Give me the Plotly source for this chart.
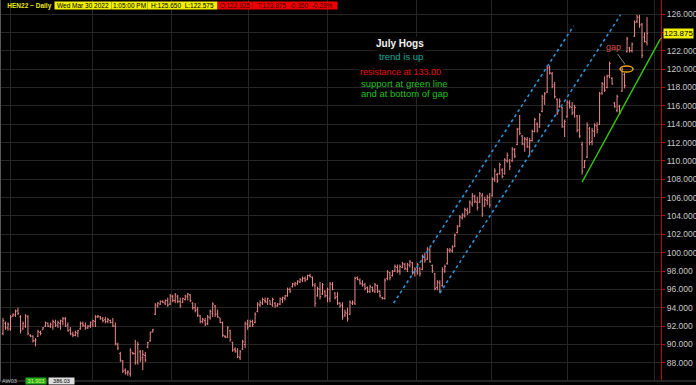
import plotly.graph_objects as go

W, H = 696, 385

# ---------------- data ----------------
high = [92.9, 92.5, 92.4, 93.2, 93.4, 93.8, 94.0, 93.2, 92.5, 93.3,
        93.2, 91.1, 91.0, 90.7, 91.6, 91.5, 91.9, 92.5, 92.4, 92.4,
        92.7, 92.7, 92.6, 92.7, 93.0, 93.0, 92.4, 91.9, 91.4, 91.5,
        91.6, 92.5, 92.5, 92.4, 92.1, 92.5, 92.7, 93.2, 93.2, 93.1,
        93.0, 93.0, 92.9, 92.7, 92.9, 92.4, 90.2, 89.2, 88.3, 87.4,
        87.2, 89.6, 89.2, 90.5, 90.3, 89.4, 89.4, 89.2, 90.3, 91.4,
        91.7, 94.5, 94.6, 94.8, 94.8, 94.9, 95.1, 95.5, 95.4, 95.6,
        95.4, 95.1, 95.1, 95.4, 95.6, 95.5, 94.6, 94.5, 94.1, 93.2,
        92.9, 92.9, 93.2, 93.8, 94.6, 94.3, 93.8, 92.9, 92.5, 91.0,
        92.0, 91.6, 90.3, 89.7, 89.6, 89.4, 90.5, 92.5, 92.7, 92.7,
        92.7, 93.5, 94.6, 94.8, 95.1, 95.1, 95.1, 94.8, 95.1, 94.6,
        94.5, 95.1, 95.2, 95.4, 96.2, 96.2, 96.7, 96.8, 97.0, 97.2,
        97.4, 97.4, 97.6, 97.7, 97.4, 96.7, 96.3, 96.8, 96.7, 95.9,
        96.2, 96.8, 96.8, 95.7, 95.7, 94.6, 94.6, 93.8, 94.0, 94.8,
        94.8, 97.4, 97.4, 97.2, 97.0, 96.7, 96.3, 96.5, 96.3, 96.7,
        96.5, 95.9, 95.2, 97.2, 98.1, 97.9, 98.1, 98.7, 98.7, 98.7,
        99.0, 98.9, 98.9, 99.2, 99.0, 98.4, 98.9, 98.4, 99.8, 100.0,
        100.6, 100.5, 98.7, 97.8, 97.0, 97.0, 98.4, 98.7, 100.5, 100.5,
        100.8, 102.1, 103.0, 104.1, 104.3, 104.9, 104.9, 105.7, 106.5, 106.3,
        106.1, 106.6, 106.5, 106.1, 106.3, 106.5, 108.2, 109.2, 108.7, 109.8,
        109.2, 110.3, 110.9, 110.2, 111.5, 111.4, 113.6, 115.0, 112.8, 112.6,
        112.6, 112.5, 113.4, 114.7, 114.2, 115.2, 117.2, 117.5, 120.4, 120.4,
        119.7, 118.6, 116.8, 116.8, 115.9, 114.5, 116.6, 116.6, 116.4, 116.1,
        115.0, 115.0, 112.1, 110.1, 114.2, 113.7, 113.6, 114.1, 114.2, 117.5,
        118.6, 119.2, 119.4, 120.8, 119.1, 116.4, 117.2, 116.1, 120.2, 119.6,
        123.5, 122.4, 122.9, 125.3, 125.9, 125.9, 125.0, 124.0, 125.65]

low = [91.0, 91.6, 91.5, 91.5, 93.0, 93.0, 93.2, 91.2, 91.6, 91.8,
       91.0, 90.8, 90.2, 89.8, 90.8, 91.0, 91.6, 91.9, 91.9, 91.8,
       91.6, 91.9, 91.8, 91.6, 92.1, 91.9, 91.4, 91.0, 90.8, 90.9,
       90.8, 91.6, 91.9, 91.6, 91.7, 91.8, 91.9, 91.9, 92.9, 92.7,
       92.4, 92.3, 92.3, 92.3, 91.9, 89.9, 89.4, 88.1, 86.9, 86.7,
       86.6, 86.5, 88.9, 87.8, 87.8, 88.1, 87.2, 88.1, 89.6, 90.3,
       91.3, 93.2, 94.0, 94.3, 94.5, 94.3, 94.1, 94.3, 94.6, 94.5,
       94.5, 94.0, 94.5, 94.8, 94.8, 94.6, 93.8, 93.5, 93.0, 92.3,
       92.3, 92.0, 92.1, 92.7, 93.0, 93.0, 92.9, 92.3, 90.8, 90.7,
       90.7, 90.3, 89.2, 89.1, 88.5, 88.3, 89.4, 89.6, 91.6, 91.9,
       91.9, 92.3, 93.5, 94.1, 94.3, 94.5, 94.3, 94.3, 94.1, 94.0,
       94.1, 94.3, 94.5, 94.8, 95.2, 95.6, 96.2, 96.3, 96.5, 96.7,
       96.8, 96.8, 97.0, 97.3, 96.3, 94.1, 95.2, 94.9, 95.4, 95.1,
       94.6, 94.6, 95.9, 94.9, 94.3, 94.0, 92.7, 93.0, 92.5, 93.2,
       94.3, 94.3, 97.0, 96.5, 96.3, 95.9, 95.6, 95.6, 95.7, 95.6,
       95.6, 95.1, 94.9, 94.9, 97.0, 97.0, 97.4, 97.9, 97.8, 97.6,
       98.3, 98.1, 97.9, 98.4, 97.6, 97.4, 97.6, 97.4, 98.1, 98.9,
       99.2, 98.9, 97.8, 95.9, 95.9, 95.6, 96.3, 97.8, 98.7, 100.0,
       100.0, 100.6, 102.1, 102.8, 103.6, 103.8, 104.1, 104.3, 105.0, 105.4,
       104.6, 105.4, 103.9, 105.0, 105.2, 104.9, 106.1, 107.7, 107.6, 108.5,
       108.1, 108.5, 109.8, 109.0, 109.9, 110.3, 111.7, 112.8, 111.7, 111.0,
       111.4, 110.6, 112.1, 113.1, 113.1, 113.6, 115.3, 116.1, 117.4, 119.4,
       117.9, 116.8, 115.0, 115.8, 113.6, 112.6, 114.7, 115.7, 115.0, 114.7,
       113.1, 112.5, 108.5, 109.2, 110.3, 111.7, 111.7, 112.6, 113.0, 113.9,
       117.2, 117.5, 117.9, 119.0, 118.3, 115.8, 115.3, 115.0, 117.5, 117.9,
       121.8, 121.8, 121.8, 123.5, 125.0, 124.5, 121.2, 122.9, 122.575]

open_ = [91.2, 92.3, 91.8, 91.7, 93.1, 93.2, 93.7, 93.0, 91.7, 92.0,
         93.0, 91.0, 90.9, 90.4, 90.9, 91.3, 91.6, 92.0, 92.3, 92.0,
         91.9, 92.4, 92.1, 92.3, 92.5, 92.8, 92.1, 91.6, 91.1, 91.0,
         91.2, 91.7, 92.3, 92.0, 91.8, 92.0, 92.2, 92.5, 93.0, 93.0,
         92.8, 92.7, 92.5, 92.6, 92.4, 92.0, 90.0, 89.0, 88.2, 87.2,
         86.9, 86.8, 89.1, 89.0, 88.2, 89.2, 88.6, 88.8, 89.7, 90.4,
         91.4, 93.3, 94.2, 94.4, 94.7, 94.5, 94.8, 94.4, 95.2, 94.8,
         95.2, 94.7, 94.6, 94.9, 95.2, 95.4, 94.5, 94.0, 93.8, 93.1,
         92.5, 92.6, 92.3, 92.9, 93.4, 94.2, 93.3, 92.9, 92.4, 90.9,
         90.8, 91.5, 90.2, 89.5, 89.2, 88.6, 89.5, 90.0, 92.2, 92.0,
         92.5, 92.4, 93.6, 94.3, 94.5, 94.8, 94.6, 94.8, 94.3, 94.5,
         94.2, 94.4, 94.9, 95.0, 95.3, 96.0, 96.3, 96.5, 96.6, 96.8,
         97.0, 97.2, 97.1, 97.5, 97.3, 96.4, 95.3, 96.0, 95.5, 95.8,
         95.3, 95.0, 96.5, 95.6, 95.2, 94.5, 94.3, 93.2, 93.4, 93.3,
         94.5, 94.5, 97.3, 97.0, 96.6, 96.5, 96.2, 95.8, 96.2, 95.8,
         96.4, 95.8, 95.1, 95.0, 97.2, 97.8, 97.5, 98.0, 98.4, 98.0,
         98.4, 98.7, 98.2, 98.6, 98.9, 97.8, 98.0, 98.3, 98.2, 99.5,
         99.3, 100.3, 98.6, 97.7, 96.2, 96.7, 96.4, 98.0, 98.8, 100.2,
         100.2, 100.7, 102.2, 102.9, 103.8, 104.0, 104.6, 104.4, 105.3, 106.1,
         105.5, 105.5, 106.2, 105.1, 105.7, 106.0, 106.2, 108.0, 108.5, 108.6,
         109.0, 108.6, 110.0, 110.0, 110.0, 111.2, 111.8, 113.5, 112.7, 111.8,
         112.3, 111.5, 112.2, 113.2, 114.0, 113.7, 115.4, 116.8, 117.5, 120.2,
         119.5, 118.3, 116.7, 115.9, 115.8, 113.7, 114.8, 116.3, 115.8, 115.3,
         114.9, 113.4, 111.8, 109.3, 110.4, 113.5, 112.1, 113.2, 113.8, 114.0,
         117.4, 118.3, 118.0, 119.3, 119.0, 116.3, 115.5, 115.9, 117.6, 119.4,
         121.9, 122.3, 122.0, 123.6, 125.2, 125.6, 124.9, 123.5, 122.925]

close = [92.6, 91.8, 92.2, 93.0, 93.3, 93.6, 93.4, 91.5, 92.3, 93.1,
         91.2, 90.9, 90.4, 90.5, 91.4, 91.2, 91.8, 92.4, 92.0, 92.2,
         92.5, 92.1, 92.4, 92.6, 92.8, 92.0, 91.5, 91.2, 91.0, 91.3,
         91.5, 92.3, 92.1, 91.8, 92.0, 92.4, 92.6, 93.0, 93.1, 92.8,
         92.6, 92.5, 92.7, 92.4, 92.0, 90.1, 89.6, 88.3, 87.1, 86.9,
         87.0, 89.3, 89.0, 88.0, 90.0, 88.4, 88.9, 88.3, 90.2, 91.3,
         91.6, 94.3, 94.5, 94.7, 94.6, 94.8, 94.3, 95.3, 94.8, 95.4,
         94.7, 94.2, 95.0, 95.3, 95.5, 94.8, 94.0, 93.7, 93.2, 92.5,
         92.7, 92.2, 93.0, 93.6, 94.4, 93.3, 93.0, 92.4, 91.0, 90.8,
         91.8, 90.5, 89.4, 89.3, 88.7, 89.2, 90.3, 92.3, 91.9, 92.5,
         92.2, 93.3, 94.4, 94.6, 94.9, 94.7, 95.0, 94.4, 94.9, 94.2,
         94.4, 95.0, 95.1, 95.3, 96.0, 95.8, 96.6, 96.7, 96.9, 97.1,
         97.2, 97.0, 97.5, 97.4, 96.5, 94.5, 96.1, 95.2, 96.5, 95.3,
         96.0, 96.6, 96.0, 95.1, 94.5, 94.2, 93.0, 93.5, 92.8, 94.6,
         94.6, 97.2, 97.1, 96.7, 96.5, 96.1, 95.8, 96.3, 95.9, 96.5,
         95.8, 95.3, 95.0, 97.0, 97.9, 97.3, 98.0, 98.5, 98.0, 98.5,
         98.8, 98.3, 98.7, 99.0, 97.8, 98.2, 98.7, 97.7, 99.6, 99.2,
         100.4, 99.0, 98.0, 96.1, 96.8, 95.8, 98.2, 98.5, 100.3, 100.3,
         100.6, 101.9, 102.8, 103.9, 104.1, 104.7, 104.3, 105.5, 106.2, 105.6,
         104.9, 106.4, 104.2, 105.8, 106.0, 105.2, 108.0, 108.9, 107.8, 109.6,
         108.3, 110.1, 110.6, 109.4, 111.3, 110.5, 113.4, 113.0, 111.9, 112.4,
         111.6, 112.2, 113.2, 114.5, 113.3, 115.0, 117.0, 117.3, 120.1, 119.6,
         118.1, 117.0, 115.2, 116.5, 113.8, 114.3, 116.4, 115.9, 115.2, 115.8,
         113.3, 112.7, 108.9, 110.0, 113.9, 112.0, 113.3, 113.9, 113.4, 117.3,
         118.4, 117.7, 119.2, 120.6, 118.4, 115.9, 117.0, 115.2, 120.0, 118.2,
         123.3, 122.0, 122.7, 125.1, 125.7, 124.8, 121.5, 123.0, 123.875]

bar_index = list(range(len(close)))

price_ticks = list(range(88, 127, 2))
# 124.000 sits under the last-price box, so it is not printed
price_labels = ["" if v == 124 else f"{v:.3f}" for v in price_ticks]
period_marks = [3, 36, 67.5, 98.5, 130, 165.5, 195.5, 226, 261]

upper_channel_x = [156.5, 228.6]
upper_channel_y = [94.5, 124.7]
lower_channel_x = [175.0, 247.4]
lower_channel_y = [95.6, 125.9]
support_x = [232.0, 263.2]
support_y = [107.7, 123.2]
gap_x = [247.2, 252.4]
gap_y = [119.68, 120.34]
last_price = 123.875

header_items = [
    # text, left px, width px, background, font colour, bold
    ("HEN22 ~ Daily", 4, 49, "rgba(0,0,0,0)", "#e8e800", True),
    ("Wed Mar 30 2022", 54, 56, "#f0f000", "#000000", False),
    ("1:05:00 PM", 111, 35, "#f0f000", "#000000", False),
    ("H:125.650  L:122.575", 147, 69, "#f0f000", "#000000", False),
    ("O:122.925", 217, 34, "#ee0000", "#3a0000", False),
    ("T:123.875  -0.350  -0.28%", 252, 84, "#ee0000", "#3a0000", False),
]

# ---------------- figure ----------------
BAR = "#ee8a8a"
FONT = "Liberation Sans"
PX_R = 661
PX_B = 380


def px(x):
    return x / W


def py(y):
    return 1 - y / H


fig = go.Figure()
fig.add_trace(go.Ohlc(
    x=bar_index, open=open_, high=high, low=low, close=close,
    increasing=dict(line=dict(color=BAR, width=1)),
    decreasing=dict(line=dict(color=BAR, width=1)),
    tickwidth=0.45, hoverinfo="skip", showlegend=False,
))
fig.add_trace(go.Scatter(x=upper_channel_x, y=upper_channel_y, mode="lines",
                         line=dict(color="#2b92d8", width=1.6, dash="dot"),
                         hoverinfo="skip", showlegend=False))
fig.add_trace(go.Scatter(x=lower_channel_x, y=lower_channel_y, mode="lines",
                         line=dict(color="#2b92d8", width=1.6, dash="dot"),
                         hoverinfo="skip", showlegend=False))
fig.add_trace(go.Scatter(x=support_x, y=support_y, mode="lines",
                         line=dict(color="#33cc00", width=1.4),
                         hoverinfo="skip", showlegend=False))

shapes = [
    dict(type="circle", xref="x", yref="y", x0=gap_x[0], x1=gap_x[1],
         y0=gap_y[0], y1=gap_y[1], line=dict(color="#e8a317", width=1.5)),
    dict(type="line", xref="paper", yref="y", x0=px(PX_R - 1), x1=px(665),
         y0=support_y[1], y1=last_price,
         line=dict(color="#e8c000", width=1, dash="dot")),
    dict(type="line", xref="paper", yref="paper", x0=0, x1=1,
         y0=py(381), y1=py(381), line=dict(color="#4a4a4a", width=1)),
    dict(type="line", xref="paper", yref="paper", x0=px(0.5), x1=px(0.5),
         y0=py(381), y1=1, line=dict(color="#555555", width=1)),
]

annotations = []
for text, left, width, bg, fg, bold in header_items:
    annotations.append(dict(
        text=f"<b>{text}</b>" if bold else text,
        xref="paper", yref="paper", x=px(left), y=py(1.5),
        xanchor="left", yanchor="top", showarrow=False, width=width,
        align="center", bgcolor=bg, borderpad=0,
        font=dict(family=FONT, size=6.5, color=fg)))

annotations += [
    dict(text="<b>July Hogs</b>", xref="paper", yref="paper", x=px(400), y=py(43),
         xanchor="center", yanchor="middle", showarrow=False, bgcolor="#050505",
         font=dict(family=FONT, size=10, color="#f2f2f2")),
    dict(text="trend is up", xref="paper", yref="paper", x=px(401), y=py(56),
         xanchor="center", yanchor="middle", showarrow=False, bgcolor="#050505",
         font=dict(family=FONT, size=9.5, color="#1aa898")),
    dict(text="resistance at 133.00", xref="paper", yref="paper", x=px(358), y=py(71.5),
         xanchor="left", yanchor="middle", showarrow=False, bgcolor="#050505",
         font=dict(family=FONT, size=9, color="#e01010")),
    dict(text="support at green line", xref="paper", yref="paper", x=px(359), y=py(84),
         xanchor="left", yanchor="middle", showarrow=False,
         font=dict(family=FONT, size=9.5, color="#22c022")),
    dict(text="and at bottom of gap", xref="paper", yref="paper", x=px(359), y=py(93.5),
         xanchor="left", yanchor="middle", showarrow=False,
         font=dict(family=FONT, size=9.5, color="#22c022")),
    dict(text="gap", x=249.2, y=120.5, xref="x", yref="y", showarrow=True,
         arrowhead=0, arrowwidth=1, arrowcolor="#8a8a8a", ax=-12, ay=-17,
         standoff=0, font=dict(family=FONT, size=9, color="#dd5050")),
    dict(text="123.875", xref="paper", yref="y", x=px(663), y=last_price,
         xanchor="left", yanchor="middle", showarrow=False, bgcolor="#f0f000",
         borderpad=0, font=dict(family=FONT, size=8, color="#000000")),
    dict(text="AW03", xref="paper", yref="paper", x=px(1), y=0,
         xanchor="left", yanchor="bottom", showarrow=False, borderpad=0,
         font=dict(family=FONT, size=5.5, color="#bbbbbb")),
    dict(text="31.903", xref="paper", yref="paper", x=px(25), y=0,
         xanchor="left", yanchor="bottom", showarrow=False, bgcolor="#22aa22", width=20,
         borderpad=0, font=dict(family=FONT, size=5.5, color="#e0ff60")),
    dict(text="386.03", xref="paper", yref="paper", x=px(48), y=0,
         xanchor="left", yanchor="bottom", showarrow=False, bgcolor="#dddddd", width=25,
         borderpad=0, font=dict(family=FONT, size=5.5, color="#000000")),
]

fig.update_layout(
    width=W, height=H,
    margin=dict(l=0, r=0, t=0, b=0, pad=0),
    paper_bgcolor="#000000", plot_bgcolor="#000000",
    showlegend=False,
    shapes=shapes, annotations=annotations,
    xaxis=dict(domain=[0, PX_R / W], range=[-1.2, 263.6],
               tickvals=period_marks, showticklabels=False, ticks="",
               showgrid=True, gridcolor="#262626", gridwidth=1,
               zeroline=False, showline=False, rangeslider=dict(visible=False),
               fixedrange=True),
    yaxis=dict(domain=[1 - PX_B / H, 1], range=[86.13, 127.525], side="right",
               tickvals=price_ticks, ticktext=price_labels,
               showgrid=True, gridcolor="#262626", gridwidth=1, zeroline=False,
               showline=True, linecolor="#cc0000", linewidth=1,
               ticks="outside", ticklen=3, tickcolor="#cc0000", tickwidth=1,
               tickfont=dict(family=FONT, size=8.5, color="#c8c8c8"),
               automargin=False, fixedrange=True),
)

fig.write_html("out.html", config={"displayModeBar": False})
